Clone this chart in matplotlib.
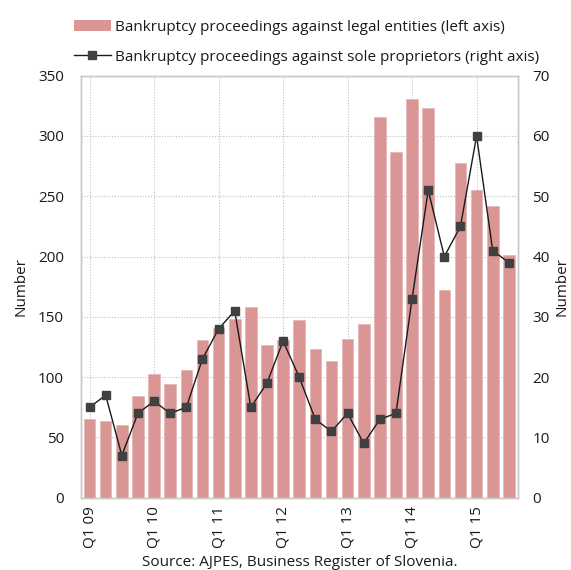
import matplotlib
matplotlib.use("Agg")
import matplotlib.pyplot as plt
import numpy as np
from matplotlib.lines import Line2D
from matplotlib.patches import Patch

plt.rcParams['font.family'] = ['Open Sans', 'DejaVu Sans']

quarters = [f"Q{q} {y:02d}" for y in range(9, 16) for q in range(1, 5)][:27]
legal_entities = [65, 64, 60, 84, 103, 94, 106, 131, 141, 148,
                  158, 127, 131, 147, 123, 113, 132, 144, 316, 287,
                  331, 323, 172, 278, 255, 242, 201]
sole_proprietors = [15, 17, 7, 14, 16, 14, 15, 23, 28, 31,
                    15, 19, 26, 20, 13, 11, 14, 9, 13, 14,
                    33, 51, 40, 45, 60, 41, 39]
left_ticks = [0, 50, 100, 150, 200, 250, 300, 350]
right_ticks = [0, 10, 20, 30, 40, 50, 60, 70]

bar_color = '#d99694'
grid_color = '#bfbfbf'
text_color = '#1a1a1a'

fig = plt.figure(figsize=(5.71, 5.70), dpi=100)
ax = fig.add_axes([80.7 / 571, 1 - 497.7 / 570, 437 / 571, 422 / 570])
ax2 = ax.twinx()

x = np.arange(len(quarters))
ax.bar(x, legal_entities, width=0.72, color=bar_color, edgecolor='#e6b8b7',
       linewidth=0.6, zorder=2)
ax.set_xlim(-0.55, len(quarters) - 0.45)
ax.set_ylim(0, 350)
ax.set_yticks(left_ticks)
ax.set_xticks(x[::4])
ax.set_xticklabels([quarters[i] for i in x[::4]], rotation=90)
ax.grid(True, linestyle=(0, (1, 1.5)), color=grid_color, linewidth=0.8, zorder=0)
ax.set_axisbelow(True)
ax.tick_params(axis='x', length=0, labelsize=11, colors=text_color, pad=6)
ax.tick_params(axis='y', length=0, labelsize=11, colors=text_color, pad=12)
ax.set_ylabel('Number', fontsize=11, color=text_color, va='center', ha='center')
ax.yaxis.set_label_coords(-0.137, 0.5)

ax2.plot(x, sole_proprietors, color='#1a1a1a', linewidth=1.0, marker='s',
         markersize=5.8, markerfacecolor='#404040', markeredgecolor='#404040',
         zorder=3)
ax2.set_ylim(0, 70)
ax2.set_yticks(right_ticks)
ax2.tick_params(length=0, labelsize=11, colors=text_color, pad=10.5)
ax2.set_ylabel('Number', fontsize=11, color=text_color, va='center', ha='center',
               rotation=90)
ax2.yaxis.set_label_coords(1.102, 0.5)

for a in (ax, ax2):
    for s in a.spines.values():
        s.set_color('#c8c8c8')
        s.set_linewidth(1.0)

handles = [Patch(facecolor=bar_color, edgecolor='none'),
           Line2D([0], [0], color='#1a1a1a', linewidth=1.0, marker='s',
                  markersize=5.5, markerfacecolor='#404040',
                  markeredgecolor='#404040')]
labels = ['Bankruptcy proceedings against legal entities (left axis)',
          'Bankruptcy proceedings against sole proprietors (right axis)']
fig.legend(handles, labels, loc='upper left', bbox_to_anchor=(68 / 571, 1 - 14 / 570),
           frameon=False, fontsize=11, handlelength=2.4, handletextpad=0.3,
           labelspacing=0.95, borderaxespad=0, labelcolor=text_color)

fig.text(300 / 571, 1 - 563 / 570, 'Source: AJPES, Business Register of Slovenia.',
         ha='center', va='center', fontsize=11, color=text_color)

fig.savefig('out.png', dpi=100)
